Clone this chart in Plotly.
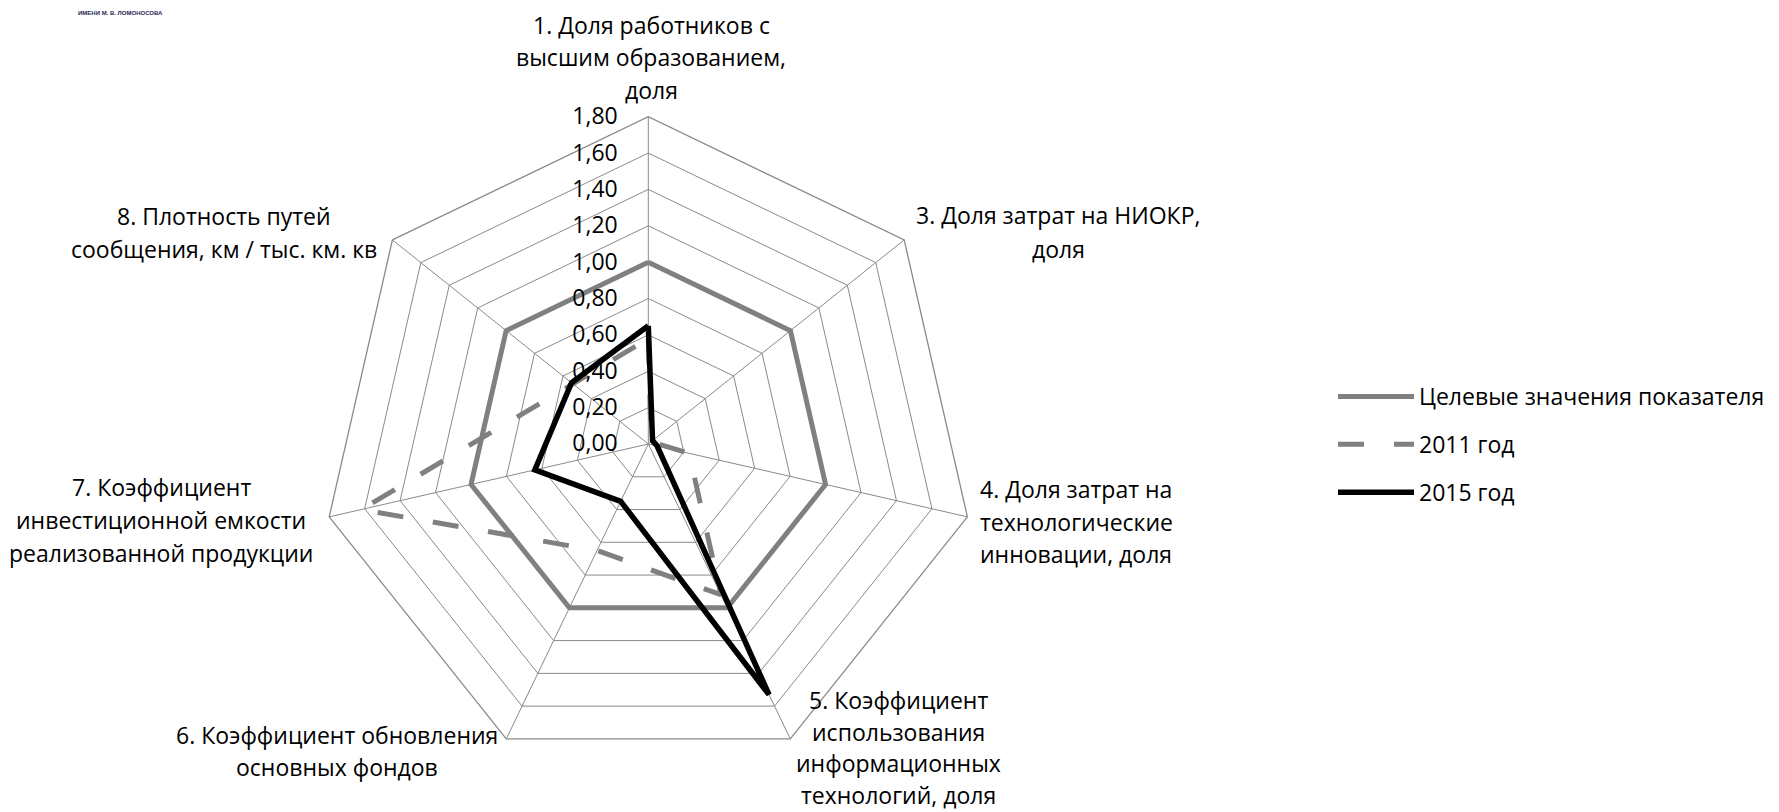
import plotly.graph_objects as go

# ---------------- data ----------------
categories = [
    "1. Доля работников с высшим образованием, доля",
    "3. Доля затрат на НИОКР, доля",
    "4. Доля затрат на технологические инновации, доля",
    "5. Коэффициент использования информационных технологий, доля",
    "6. Коэффициент обновления основных фондов",
    "7. Коэффициент инвестиционной емкости реализованной продукции",
    "8. Плотность путей сообщения, км / тыс. км. кв",
]
label_lines = [
    ["1. Доля работников с", "высшим образованием,", "доля"],
    ["3. Доля затрат на НИОКР,", "доля"],
    ["4. Доля затрат на", "технологические", "инновации, доля"],
    ["5. Коэффициент", "использования", "информационных", "технологий, доля"],
    ["6. Коэффициент обновления", "основных фондов"],
    ["7. Коэффициент", "инвестиционной емкости", "реализованной продукции"],
    ["8. Плотность путей", "сообщения, км / тыс. км. кв"],
]
target_values = [1.00, 1.00, 1.00, 1.00, 1.00, 1.00, 1.00]
values_2011 = [0.58, 0.02, 0.23, 0.92, 0.65, 1.62, 0.53]
values_2015 = [0.65, 0.03, 0.05, 1.53, 0.35, 0.64, 0.54]
series_names = ["Целевые значения показателя", "2011 год", "2015 год"]
radial_ticks = [0.0, 0.2, 0.4, 0.6, 0.8, 1.0, 1.2, 1.4, 1.6, 1.8]

# ---------------- layout constants (figure pixels) ----------------
W, H = 1779, 812
CX, CY, R = 640.3, 436.0, 327.3
FONT = "Open Sans"
FS = 23
TXT = "#000000"
GRID = "#8a8a8a"

# label placement (center x px, first line y px, line gap px)
label_pos = [(643, 17, 32.5), (1050, 207, 34), (1068, 481, 32.5), (890, 692, 31.6),
             (329, 727, 32), (153, 479, 33), (216, 208, 33)]


def closed(v):
    return list(v) + [v[0]]


theta = closed(categories)

fig = go.Figure()
fig.add_trace(go.Scatterpolar(
    r=closed(target_values), theta=theta, mode="lines", name=series_names[0],
    legendgroup="g1", line=dict(color="#808080", width=5), hoverinfo="skip"))
fig.add_trace(go.Scatterpolar(
    r=closed(values_2011), theta=theta, mode="lines", name=series_names[1],
    legendgroup="g2", line=dict(color="#808080", width=5, dash="26px,30px"), hoverinfo="skip"))
fig.add_trace(go.Scatterpolar(
    r=closed(values_2015), theta=theta, mode="lines", name=series_names[2],
    legendgroup="g3", line=dict(color="#000000", width=5.5), hoverinfo="skip"))

annotations = []
for lines, (x, y, gap) in zip(label_lines, label_pos):
    for i, t in enumerate(lines):
        annotations.append(dict(
            text=t, xref="paper", yref="paper",
            x=x / W, y=1 - (y + i * gap) / H,
            xanchor="center", yanchor="middle", showarrow=False,
            font=dict(family=FONT, size=FS, color=TXT)))

# small header fragment at the top-left corner
annotations.append(dict(
    text="<b>ИМЕНИ М. В. ЛОМОНОСОВА</b>", xref="paper", yref="paper",
    x=68 / W, y=1 - 4.5 / H, xanchor="left", yanchor="middle", showarrow=False,
    font=dict(family="Liberation Sans", size=6, color="#1f2654")))

fig.update_layout(
    width=W, height=H,
    margin=dict(l=0, r=0, t=0, b=0),
    paper_bgcolor="white", plot_bgcolor="white",
    separators=", ",
    font=dict(family=FONT, size=FS, color=TXT),
    polar=dict(
        domain=dict(x=[(CX - R) / W, (CX + R) / W], y=[1 - (CY + R) / H, 1 - (CY - R) / H]),
        bgcolor="white",
        gridshape="linear",
        angularaxis=dict(
            type="category", categoryarray=categories,
            direction="clockwise", rotation=90,
            showticklabels=False, ticks="",
            showgrid=True, gridcolor=GRID, gridwidth=1.3,
            showline=True, linecolor=GRID, linewidth=1.3,
        ),
        radialaxis=dict(
            range=[0, 1.8], tickvals=radial_ticks, tickformat=".2f",
            angle=90, tickangle=90, side="counterclockwise",
            showgrid=True, gridcolor=GRID, gridwidth=1.3,
            showline=False, ticks="outside", ticklen=22, tickcolor="rgba(0,0,0,0)",
            tickfont=dict(family=FONT, size=FS, color=TXT),
        ),
    ),
    showlegend=True,
    legend=dict(
        x=1325 / W, y=1 - 367 / H, xanchor="left", yanchor="top",
        font=dict(family=FONT, size=FS, color=TXT),
        itemwidth=76, tracegroupgap=15, bgcolor="rgba(0,0,0,0)",
        itemclick=False, itemdoubleclick=False,
    ),
    annotations=annotations,
)

fig.write_html("out.html")
